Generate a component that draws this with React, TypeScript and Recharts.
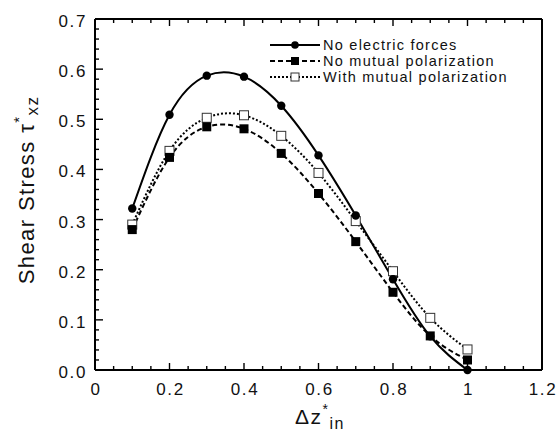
import { LineChart, Line, XAxis, YAxis, Legend } from 'recharts'

const dz = [0.1, 0.2, 0.3, 0.4, 0.5, 0.6, 0.7, 0.8, 0.9, 1.0]
const noElectric = [0.322, 0.509, 0.587, 0.585, 0.527, 0.428, 0.308, 0.181, 0.067, 0.0]
const noMutual = [0.28, 0.424, 0.485, 0.481, 0.432, 0.352, 0.256, 0.155, 0.068, 0.02]
const withMutual = [0.29, 0.437, 0.503, 0.508, 0.467, 0.393, 0.297, 0.197, 0.104, 0.041]

const xMajor = [0, 0.2, 0.4, 0.6, 0.8, 1.0, 1.2]
const xLabels = ['0', '0.2', '0.4', '0.6', '0.8', '1', '1.2']
const yMajor = [0, 0.1, 0.2, 0.3, 0.4, 0.5, 0.6, 0.7]
const yLabels = ['0.0', '0.1', '0.2', '0.3', '0.4', '0.5', '0.6', '0.7']

// minor ticks: x every 0.05, y every 0.02
const xTicks = Array.from({ length: 25 }, (_, i) => Math.round(i * 5) / 100)
const yTicks = Array.from({ length: 36 }, (_, i) => Math.round(i * 2) / 100)

const data = dz.map((x, i) => ({
  x,
  a: noElectric[i],
  b: noMutual[i],
  c: withMutual[i],
}))

const FONT = '"Liberation Sans", Arial, Helvetica, sans-serif'
const near = (v: number, arr: number[]) => arr.findIndex((m) => Math.abs(m - v) < 1e-6)

function BottomTick({ x, y, payload }: any) {
  const idx = near(payload.value, xMajor)
  return (
    <g>
      <line x1={x} y1={y} x2={x} y2={y - (idx >= 0 ? 7 : 4)} stroke="#000" strokeWidth={1.4} />
      {idx >= 0 && (
        <text x={x + 1} y={y + 25} textAnchor="middle" fontSize={17} letterSpacing={1.6} fontFamily={FONT} fill="#111">
          {xLabels[idx]}
        </text>
      )}
    </g>
  )
}

function TopTick({ x, y, payload }: any) {
  const idx = near(payload.value, xMajor)
  return <line x1={x} y1={y} x2={x} y2={y + (idx >= 0 ? 7 : 4)} stroke="#000" strokeWidth={1.4} />
}

function LeftTick({ x, y, payload }: any) {
  const idx = near(payload.value, yMajor)
  return (
    <g>
      <line x1={x} y1={y} x2={x + (idx >= 0 ? 8 : 4)} y2={y} stroke="#000" strokeWidth={1.4} />
      {idx >= 0 && (
        <text x={x - 8} y={y + 8} textAnchor="end" fontSize={17} letterSpacing={1.6} fontFamily={FONT} fill="#111">
          {yLabels[idx]}
        </text>
      )}
    </g>
  )
}

function RightTick({ x, y, payload }: any) {
  const idx = near(payload.value, yMajor)
  return <line x1={x} y1={y} x2={x - (idx >= 0 ? 8 : 4)} y2={y} stroke="#000" strokeWidth={1.4} />
}

function CircleDot({ cx, cy }: any) {
  return <circle cx={cx} cy={cy} r={4.2} fill="#000" stroke="none" />
}

function FilledSquare({ cx, cy }: any) {
  return <rect x={cx - 4.5} y={cy - 4.5} width={9} height={9} fill="#000" />
}

function OpenSquare({ cx, cy }: any) {
  return <rect x={cx - 4.5} y={cy - 4.5} width={9} height={9} fill="#fff" stroke="#333" strokeWidth={1} />
}

function YLabel() {
  return (
    <text
      transform="translate(34,190) rotate(-90)"
      textAnchor="middle"
      fontSize={22}
      letterSpacing={1.4}
      fontFamily={FONT}
      fill="#111"
    >
      Shear Stress{'  '}τ
      <tspan fontSize={15} dy={-10}>*</tspan>
      <tspan fontSize={17} dy={14}>xz</tspan>
    </text>
  )
}

function XLabel() {
  return (
    <text x={295} y={424} textAnchor="start" fontSize={21} letterSpacing={1.5} fontFamily={FONT} fill="#111">
      Δz
      <tspan fontSize={14} dy={-10}>*</tspan>
      <tspan fontSize={16} dy={15}>in</tspan>
    </text>
  )
}

const legendRows = [
  { label: 'No electric forces', dash: undefined, kind: 'circle' },
  { label: 'No mutual polarization', dash: '5 3', kind: 'filled' },
  { label: 'With mutual polarization', dash: '2 2', kind: 'open' },
]

function LegendBox() {
  return (
    <svg width={290} height={54}>
      {legendRows.map((r, i) => {
        const y = 9 + i * 16
        return (
          <g key={r.label}>
            <line x1={8} x2={58} y1={y} y2={y} stroke="#000" strokeWidth={r.kind === 'circle' ? 2 : 1.8} strokeDasharray={r.dash} />
            {r.kind === 'circle' && <circle cx={33} cy={y} r={3.8} fill="#000" />}
            {r.kind === 'filled' && <rect x={29} y={y - 4} width={8} height={8} fill="#000" />}
            {r.kind === 'open' && <rect x={29} y={y - 4} width={8} height={8} fill="#fff" stroke="#333" />}
            <text x={61} y={y + 5} fontSize={14.5} letterSpacing={1.25} fontFamily={FONT} fill="#111">
              {r.label}
            </text>
          </g>
        )
      })}
    </svg>
  )
}

export default function App() {
  return (
    <div style={{ position: 'absolute', left: 0, top: 0, background: '#fff' }}>
      <LineChart width={559} height={431} data={data} margin={{ top: 9, right: 7, bottom: 21, left: 35 }}>
        <XAxis
          dataKey="x"
          type="number"
          domain={[0, 1.2]}
          ticks={xTicks}
          interval={0}
          tickLine={false}
          tickSize={0}
          tickMargin={0}
          tick={<BottomTick />}
          axisLine={{ stroke: '#000', strokeWidth: 2 }}
          height={40}
          label={<XLabel />}
        />
        <XAxis
          xAxisId="top"
          orientation="top"
          dataKey="x"
          type="number"
          domain={[0, 1.2]}
          ticks={xTicks}
          interval={0}
          tickLine={false}
          tickSize={0}
          tickMargin={0}
          tick={<TopTick />}
          axisLine={{ stroke: '#000', strokeWidth: 2 }}
          height={10}
        />
        <YAxis
          type="number"
          domain={[0, 0.7]}
          ticks={yTicks}
          interval={0}
          tickLine={false}
          tickSize={0}
          tickMargin={0}
          tick={<LeftTick />}
          axisLine={{ stroke: '#000', strokeWidth: 2 }}
          width={60}
          label={<YLabel />}
        />
        <YAxis
          yAxisId="right"
          orientation="right"
          type="number"
          domain={[0, 0.7]}
          ticks={yTicks}
          interval={0}
          tickLine={false}
          tickSize={0}
          tickMargin={0}
          tick={<RightTick />}
          axisLine={{ stroke: '#000', strokeWidth: 2 }}
          width={10}
        />
        <Legend
          layout="vertical"
          align="center"
          verticalAlign="middle"
          wrapperStyle={{ position: 'absolute', left: 262, top: 36, width: 290, height: 54 }}
          content={() => <LegendBox />}
        />
        <Line
          type="natural"
          dataKey="c"
          stroke="#000"
          strokeWidth={2}
          strokeDasharray="2 2"
          dot={<OpenSquare />}
          isAnimationActive={false}
        />
        <Line
          type="natural"
          dataKey="b"
          stroke="#000"
          strokeWidth={2}
          strokeDasharray="5 3"
          dot={<FilledSquare />}
          isAnimationActive={false}
        />
        <Line
          type="natural"
          dataKey="a"
          stroke="#000"
          strokeWidth={2}
          dot={<CircleDot />}
          isAnimationActive={false}
        />
      </LineChart>
    </div>
  )
}
